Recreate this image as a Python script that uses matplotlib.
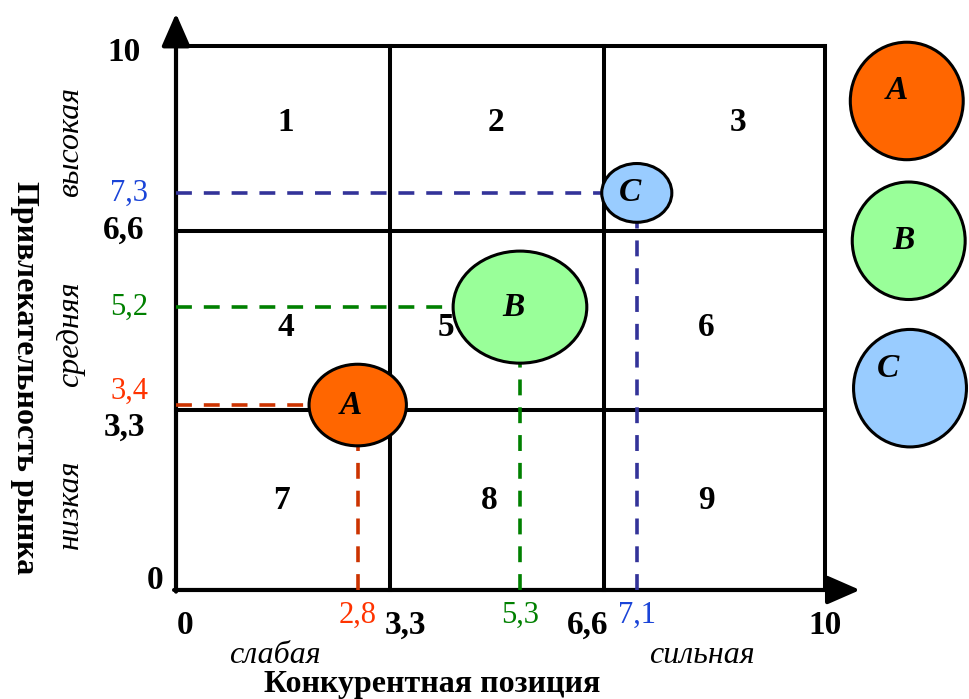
import numpy as np
import matplotlib.pyplot as plt
from matplotlib.patches import Ellipse

plt.rcParams['font.family'] = ['Liberation Serif', 'DejaVu Serif']

# товары: конкурентная позиция (x), привлекательность рынка (y), размер круга
names = ['A', 'B', 'C']
pos_x = [2.8, 5.3, 7.1]
pos_y = [3.4, 5.2, 7.3]
sizes = [1.5, 2.06, 1.08]
fills = ['#ff6600', '#99ff99', '#99ccff']
dash_colors = ['#cc3300', '#008000', '#333399']
label_colors = ['#ff3300', '#008000', '#1a44d8']
pos_x_txt = ['2,8', '5,3', '7,1']
pos_y_txt = ['3,4', '5,2', '7,3']

# границы ячеек матрицы
bounds = [0, 3.3, 6.6, 10]
bound_txt = ['0', '3,3', '6,6', '10']

# номера ячеек
cell_num = ['1', '2', '3', '4', '5', '6', '7', '8', '9']
cell_x = [1.69, 4.93, 8.66, 1.69, 4.16, 8.17, 1.63, 4.82, 8.17]
cell_y = [8.6, 8.6, 8.6, 4.83, 4.83, 4.83, 1.65, 1.65, 1.65]

y_levels = ['высокая', 'средняя', 'низкая']
x_levels = ['слабая', 'сильная']

fig = plt.figure(figsize=(9.69, 6.99), dpi=100)
ax = fig.add_axes([0, 0, 1, 1])
ax.set_xlim(-2.712, 12.219)
ax.set_ylim(-2.004, 10.846)
ax.axis('off')

# сетка 3x3 и рамка
for b in bounds[1:]:
    ax.plot([b, b], [0, 10], color='black', lw=2.9, solid_capstyle='projecting', zorder=2)
    ax.plot([0, 10], [b, b], color='black', lw=2.9, solid_capstyle='projecting', zorder=2)

# оси со стрелками
arr = dict(arrowstyle='-|>,head_length=0.8,head_width=0.35', lw=3, color='black',
           mutation_scale=25, shrinkA=0, shrinkB=0)
ax.annotate('', xy=(0, 10.6), xytext=(0, -0.03), arrowprops=arr, zorder=3)
ax.annotate('', xy=(10.54, 0), xytext=(-0.03, 0), arrowprops=arr, zorder=3)

# пунктир до осей и круги
for i in range(len(names)):
    ax.plot([0, pos_x[i]], [pos_y[i], pos_y[i]], color=dash_colors[i], lw=2.6,
            linestyle=(0, (4.4, 3.3)), zorder=4)
    ax.plot([pos_x[i], pos_x[i]], [0, pos_y[i]], color=dash_colors[i], lw=2.6,
            linestyle=(0, (4.4, 3.3)), zorder=4)
    ax.add_patch(Ellipse((pos_x[i], pos_y[i]), sizes[i], sizes[i], facecolor=fills[i],
                         edgecolor='black', lw=2.2, zorder=5))
    ax.text(pos_x[i] - 0.1, pos_y[i], names[i], fontsize=24, fontweight='bold',
            fontstyle='italic', ha='center', va='center', zorder=6)
    ax.text(pos_x[i], -0.2, pos_x_txt[i], fontsize=22, color=label_colors[i],
            ha='center', va='top')

# подписи значений по оси y
ax.text(-0.72, pos_y[0] + 0.26, pos_y_txt[0], fontsize=22, color=label_colors[0],
        ha='center', va='center')
for i in range(1, len(names)):
    ax.text(-0.72, pos_y[i], pos_y_txt[i], fontsize=22, color=label_colors[i],
            ha='center', va='center')

# границы зон
y_off = [0.17, -0.3, 0.02, -0.11]
ax.text(-0.32, bounds[0] + y_off[0], bound_txt[0], fontsize=24, fontweight='bold',
        ha='center', va='center')
for i in range(1, 4):
    ax.text(-0.8, bounds[i] + y_off[i], bound_txt[i], fontsize=24, fontweight='bold',
            ha='center', va='center')
ax.text(bounds[0] + 0.14, -0.37, bound_txt[0], fontsize=24, fontweight='bold',
        ha='center', va='top')
ax.text(bounds[1] - 0.08, -0.37, bound_txt[1], fontsize=24, fontweight='bold',
        ha='left', va='top')
ax.text(bounds[2] + 0.06, -0.37, bound_txt[2], fontsize=24, fontweight='bold',
        ha='right', va='top')
ax.text(bounds[3], -0.37, bound_txt[3], fontsize=24, fontweight='bold',
        ha='center', va='top')

for i in range(len(cell_num)):
    ax.text(cell_x[i], cell_y[i], cell_num[i], fontsize=24, fontweight='bold',
            ha='center', va='center')

# уровни привлекательности и позиции
for lvl, yc in zip(y_levels, [8.24, 4.7, 1.58]):
    ax.text(-1.62, yc, lvl, fontsize=23, fontstyle='italic', rotation=90,
            ha='center', va='center')
for lvl, xc in zip(x_levels, [1.53, 8.1]):
    ax.text(xc, -1.2, lvl, fontsize=23, fontstyle='italic', ha='center', va='center')

ax.text(-2.33, 3.9, 'Привлекательность рынка', fontsize=23, fontweight='bold',
        rotation=270, ha='center', va='center')
ax.text(3.94, -1.73, 'Конкурентная позиция', fontsize=23, fontweight='bold',
        ha='center', va='center')

# условные обозначения справа
leg_x = [11.26, 11.29, 11.31]
leg_y = [8.99, 6.42, 3.71]
leg_dx = [-0.15, -0.08, -0.34]
leg_dy = [0.2, 0.0, 0.37]
for i in range(len(names)):
    ax.add_patch(Ellipse((leg_x[i], leg_y[i]), 1.74, 2.16, facecolor=fills[i],
                         edgecolor='black', lw=2.2, zorder=5))
    ax.text(leg_x[i] + leg_dx[i], leg_y[i] + leg_dy[i], names[i], fontsize=24,
            fontweight='bold', fontstyle='italic', ha='center', va='center', zorder=6)

fig.savefig('out.png', dpi=100)
